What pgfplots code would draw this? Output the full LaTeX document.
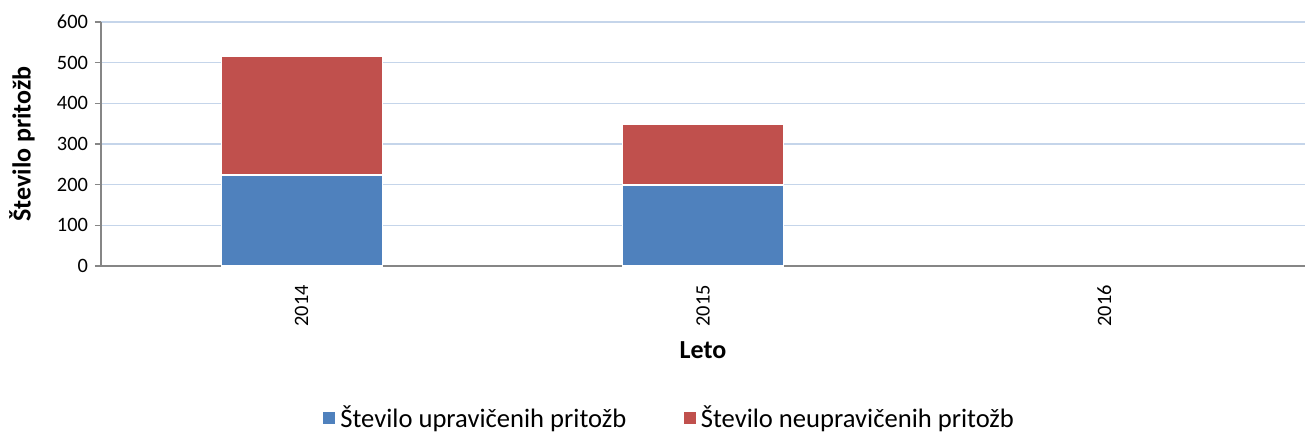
\documentclass[border=0pt]{standalone}
\usepackage{fontspec}
\setmainfont{Carlito}
\usepackage{pgfplots}
\pgfplotsset{compat=1.18}
\definecolor{serA}{HTML}{4F81BD}
\definecolor{serB}{HTML}{C0504D}
\definecolor{gridc}{HTML}{C5D5EA}
\definecolor{axc}{HTML}{868686}

\begin{document}
\begin{tikzpicture}
\path[use as bounding box] (0,0) rectangle (652.5pt,-217.5pt);
\begin{axis}[
  at={(50.5pt,-11pt)},anchor=north west,
  scale only axis,width=602pt,height=122pt,
  ybar stacked,bar width=80.5pt,
  xmin=-0.5,xmax=2.5,ymin=0,ymax=600,
  xtick={0,1,2},xticklabels={2014,2015,2016},
  extra x ticks={-0.5,0.5,1.5,2.5},extra x tick labels={},
  extra x tick style={major tick length=3pt,tick style={axc,line width=0.8pt},grid=none},
  ytick={0,100,...,600},
  axis x line*=bottom,axis y line*=left,
  axis line style={axc,line width=0.8pt,-},
  ymajorgrids,grid style={gridc,line width=0.8pt},
  major tick length=3pt,tick align=outside,
  tick style={axc,line width=0.8pt},
  xtick style={draw=none},
  /pgf/number format/assume math mode=true,
  tick label style={font=\fontsize{10.2}{12}\selectfont,black},
  x tick label style={rotate=90,anchor=east,xshift=-3pt},
  xlabel={\textbf{Leto}},
  ylabel={\textbf{Število pritožb}},
  label style={font=\fontsize{13}{15}\selectfont},
  xlabel style={at={(axis description cs:0.5,0)},anchor=center,yshift=-42pt},
  ylabel style={at={(axis description cs:0,0.5)},anchor=center,yshift=39.5pt},
  legend style={at={(axis description cs:0.4726,-0.623)},anchor=center,draw=none,
    legend columns=2,font=\fontsize{13.3}{15}\selectfont,
    /tikz/every even column/.append style={column sep=26pt}},
  legend image code/.code={\fill[#1] (0pt,-3.3pt) rectangle (6.6pt,3.3pt);},
]
\addplot[fill=serA,draw=white,line width=0.6pt] coordinates {(0,224) (1,199)};
\addplot[fill=serB,draw=white,line width=0.6pt] coordinates {(0,292) (1,150)};
\legend{Število upravičenih pritožb,Število neupravičenih pritožb}
\end{axis}
\end{tikzpicture}
\end{document}
